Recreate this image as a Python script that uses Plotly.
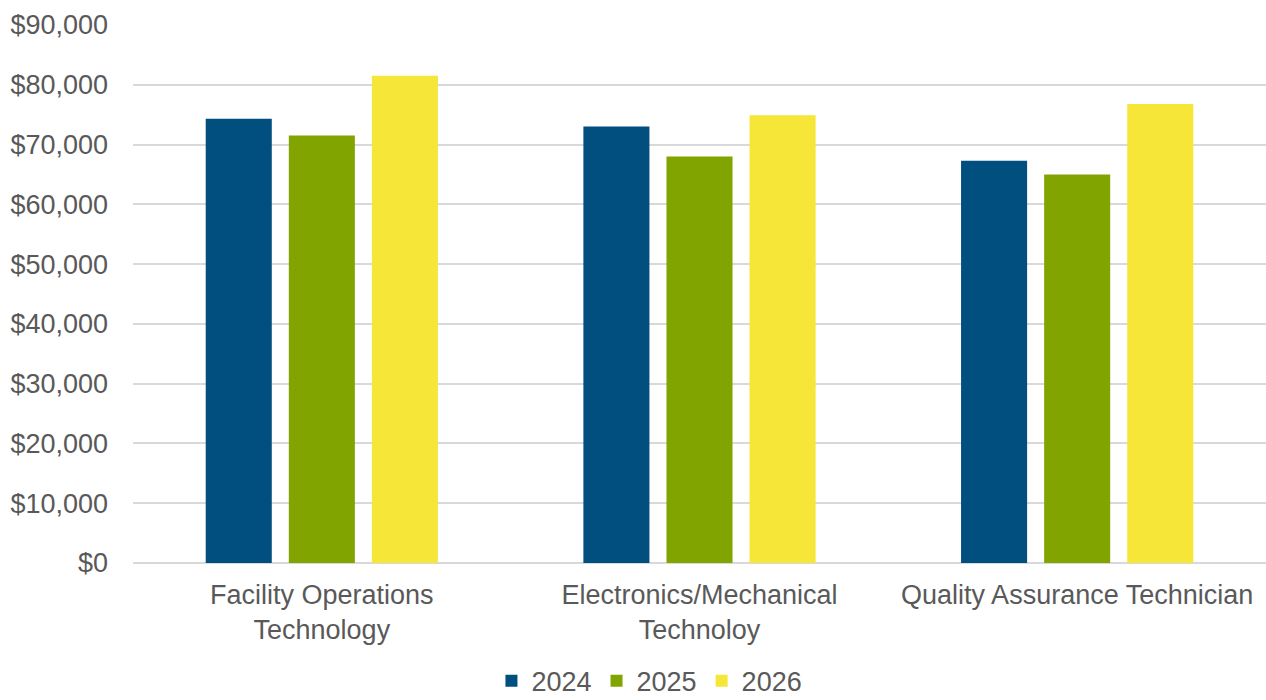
import plotly.graph_objects as go

categories = ["Facility Operations<br>Technology", "Electronics/Mechanical<br>Technoloy", "Quality Assurance Technician"]
years = ["2024", "2025", "2026"]
values_2024 = [74300, 73000, 67300]
values_2025 = [71500, 68000, 65000]
values_2026 = [81500, 74900, 76800]
colors = ["#004F7F", "#82A400", "#F5E637"]
tick_vals = list(range(0, 90001, 10000))
tick_text = ["$" + format(v, ",") for v in tick_vals]

fig = go.Figure()
for name, vals, c in zip(years, [values_2024, values_2025, values_2026], colors):
    fig.add_trace(go.Bar(x=categories, y=vals, name=name, marker_color=c, marker_line_width=0))

fig.update_layout(
    width=1266, height=700,
    margin=dict(l=133, r=0, t=25, b=137),
    paper_bgcolor="white", plot_bgcolor="white",
    barmode="group", bargap=0.34, bargroupgap=0.205,
    font=dict(family="Liberation Sans, Arial", size=27, color="#595959"),
    legend=dict(orientation="h", xref="container", yref="container",
                x=0.513, xanchor="center", y=0.027, yanchor="middle",
                font=dict(size=27, color="#595959"), itemwidth=30, tracegroupgap=0),
    xaxis=dict(showgrid=False, showline=False, ticks="", tickfont=dict(size=27),
               ticklabelstandoff=13),
    yaxis=dict(range=[0, 90000], tickvals=tick_vals, ticktext=tick_text,
               showgrid=True, gridcolor="#D9D9D9", gridwidth=1.5,
               zeroline=True, zerolinecolor="#D9D9D9", zerolinewidth=1.5,
               ticks="", ticklabelstandoff=24, tickfont=dict(size=27)),
)

fig.write_html("out.html")
